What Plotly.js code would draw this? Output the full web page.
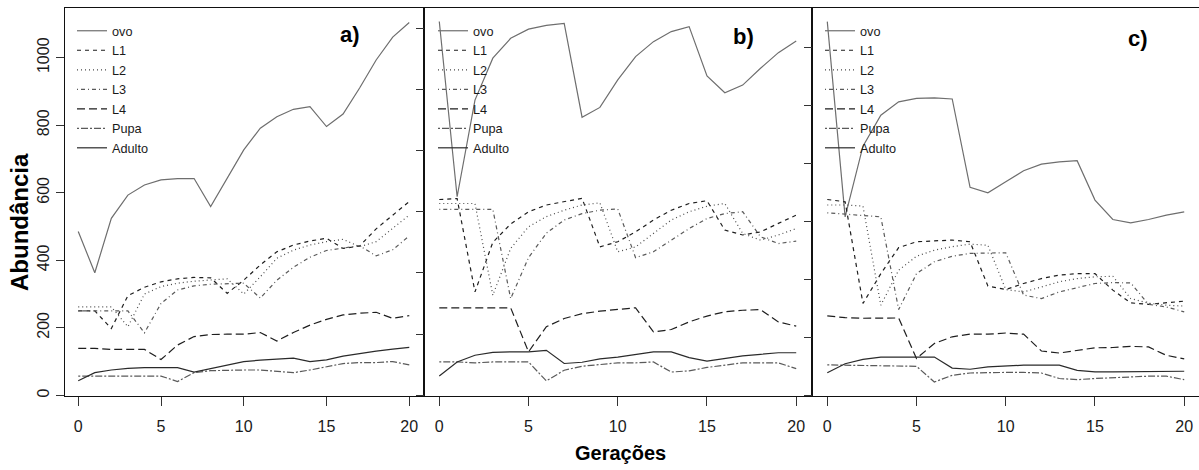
<!DOCTYPE html>
<html><head><meta charset="utf-8">
<script src="https://cdn.plot.ly/plotly-3.0.1.min.js"></script>
<style>html,body{margin:0;padding:0;background:#fff}#chart{width:1199px;height:470px}</style>
</head><body><div id="chart"></div>
<script>
const geracoes = [0,1,2,3,4,5,6,7,8,9,10,11,12,13,14,15,16,17,18,19,20];
const estagios = ["ovo","L1","L2","L3","L4","Pupa","Adulto"];
const paineis = ["a)","b)","c)"];

// Panel a
const ovo_a    = [485,363,524,593,623,638,642,642,559,643,727,791,825,847,855,796,833,910,993,1061,1104];
const L1_a     = [250,250,198,295,320,336,345,349,348,302,341,386,425,445,457,465,435,442,493,533,574];
const L2_a     = [262,262,262,203,300,322,332,338,342,345,300,351,406,430,445,455,462,440,455,495,534];
const L3_a     = [250,250,250,250,185,272,312,324,329,331,332,288,341,379,409,429,436,443,413,431,472];
const L4_a     = [139,139,136,136,136,106,149,174,180,181,181,186,161,186,208,225,238,243,246,228,236];
const pupa_a   = [57,57,57,57,57,57,41,67,73,75,75,75,72,67,75,85,94,97,97,100,90];
const adulto_a = [43,67,75,80,82,82,82,69,79,90,100,104,107,110,100,105,116,124,131,137,142];

// Panel b
const ovo_b    = [1222,649,965,1102,1167,1197,1209,1216,909,941,1031,1107,1156,1189,1205,1044,989,1014,1069,1120,1158];
const L1_b     = [640,643,338,500,560,600,622,633,644,485,502,534,573,605,627,636,540,524,534,562,589];
const L2_b     = [627,627,627,327,480,551,584,605,622,629,469,485,529,573,600,618,627,529,507,524,545];
const L3_b     = [608,608,608,608,316,450,530,573,594,605,609,450,469,507,545,578,594,600,518,496,504];
const L4_b     = [286,286,286,286,286,142,224,251,267,275,280,286,207,215,240,259,273,278,280,240,226];
const pupa_b   = [109,109,106,109,109,109,47,82,95,101,106,106,109,76,80,91,98,106,106,106,87];
const adulto_b = [63,109,131,140,142,142,147,104,108,119,125,134,142,142,123,112,120,129,134,139,139];

// Panel c
const ovo_c    = [1290,616,860,967,1013,1025,1027,1023,718,699,737,775,798,806,810,674,607,595,607,622,633];
const L1_c     = [676,668,317,420,510,530,533,536,530,377,365,386,403,415,420,420,363,319,314,319,325];
const L2_c     = [657,657,653,311,432,480,501,513,522,518,365,357,374,392,403,409,411,334,318,311,308];
const L3_c     = [630,625,622,616,296,420,461,480,490,492,492,346,334,357,372,386,389,388,314,305,288];
const L4_c     = [274,268,266,267,267,127,179,202,211,211,215,211,153,146,155,164,165,169,167,138,126];
const pupa_c   = [105,104,101,100,100,100,46,69,77,79,79,79,77,58,54,58,61,63,66,66,54];
const adulto_c = [78,109,124,132,132,132,132,94,90,98,101,104,104,104,86,81,81,81,83,83,83];

const dados = [
  [ovo_a, L1_a, L2_a, L3_a, L4_a, pupa_a, adulto_a],
  [ovo_b, L1_b, L2_b, L3_b, L4_b, pupa_b, adulto_b],
  [ovo_c, L1_c, L2_c, L3_c, L4_c, pupa_c, adulto_c]
];

const estilos = [
  {color:'#6e6e6e', dash:'solid'},
  {color:'#1e1e1e', dash:'4px,4px'},
  {color:'#4a4a4a', dash:'1px,3px'},
  {color:'#5a5a5a', dash:'1px,3px,4px,3px'},
  {color:'#1e1e1e', dash:'8px,4px'},
  {color:'#5a5a5a', dash:'2px,2px,7px,2px'},
  {color:'#2a2a2a', dash:'solid'}
];

const W = 1199, H = 470;
const FONT = 'Liberation Sans, Arial, sans-serif';
const panX = [[65,422.5],[425,810.5],[813,1198.5]];
const yRanges = [[-2,1147],[-2.3,1266],[-2.4,1337]];
const yTicks = [[0,200,400,600,800,1000],[0,200,400,600,800,1000,1200],[0,200,400,600,800,1000,1200]];
const legX = [72,433,820];
const legendIds = ['legend','legend2','legend3'];

const traces = [];
dados.forEach((painel, p) => {
  painel.forEach((serie, s) => {
    traces.push({
      x: geracoes, y: serie, type:'scatter', mode:'lines',
      name: estagios[s],
      xaxis: p===0 ? 'x' : 'x'+(p+1),
      yaxis: p===0 ? 'y' : 'y'+(p+1),
      legend: legendIds[p],
      line: {color: estilos[s].color, width: 1.2, dash: estilos[s].dash},
      hoverinfo: 'skip'
    });
  });
});

const layout = {
  width: W, height: H,
  margin: {l:0, r:0, t:0, b:0},
  paper_bgcolor: '#fff', plot_bgcolor: '#fff',
  showlegend: true,
  font: {family: FONT, color: '#1a1a1a'},
  annotations: [],
};

const yDom = [1-396/H, 1-8/H];
for (let p = 0; p < 3; p++) {
  const xs = p===0 ? 'xaxis' : 'xaxis'+(p+1);
  const ys = p===0 ? 'yaxis' : 'yaxis'+(p+1);
  layout[xs] = {
    domain: [panX[p][0]/W, panX[p][1]/W],
    range: [-0.8, 20.8],
    anchor: p===0 ? 'y' : 'y'+(p+1),
    tickvals: [0,5,10,15,20],
    ticks: 'outside', ticklen: 9, tickwidth: 1, tickcolor: '#333',
    showline: true, mirror: true, linecolor: '#111', linewidth: 1,
    showgrid: false, zeroline: false,
    tickfont: {family: FONT, size: 16, color: '#1a1a1a'},
    ticklabelstandoff: 7
  };
  layout[ys] = {
    domain: yDom,
    range: yRanges[p],
    anchor: p===0 ? 'x' : 'x'+(p+1),
    tickvals: yTicks[p],
    ticks: 'outside', ticklen: 8, tickwidth: 1, tickcolor: '#333',
    showline: true, mirror: true, linecolor: '#111', linewidth: 1,
    showgrid: false, zeroline: false,
    showticklabels: p===0,
    tickangle: -90,
    tickfont: {family: FONT, size: 16, color: '#1a1a1a'},
    ticklabelstandoff: 1
  };
  layout[legendIds[p]] = {
    x: legX[p]/W, y: 1-16/H, xanchor: 'left', yanchor: 'top',
    bgcolor: 'rgba(0,0,0,0)', borderwidth: 0,
    font: {family: FONT, size: 12.7, color: '#1a1a1a'},
    itemwidth: 30, tracegroupgap: 0, traceorder: 'normal'
  };
}

const labPos = [[350,34],[743,36],[1138,38]];
paineis.forEach((t, p) => {
  layout.annotations.push({
    text: '<b>'+t+'</b>', xref:'paper', yref:'paper',
    x: labPos[p][0]/W, y: 1-labPos[p][1]/H, xanchor:'center', yanchor:'middle',
    showarrow:false, font:{family: FONT, size: 22, color:'#000'}
  });
});
layout.annotations.push({
  text: '<b>Abundância</b>', xref:'paper', yref:'paper',
  x: 19/W, y: 1-222/H, xanchor:'center', yanchor:'middle', textangle:-90,
  showarrow:false, font:{family: FONT, size: 24, color:'#000'}
});
layout.annotations.push({
  text: '<b>Gerações</b>', xref:'paper', yref:'paper',
  x: 620/W, y: 1-453/H, xanchor:'center', yanchor:'middle',
  showarrow:false, font:{family: FONT, size: 20, color:'#000'}
});

Plotly.newPlot('chart', traces, layout, {staticPlot: true, displayModeBar: false});
</script>
</body></html>
